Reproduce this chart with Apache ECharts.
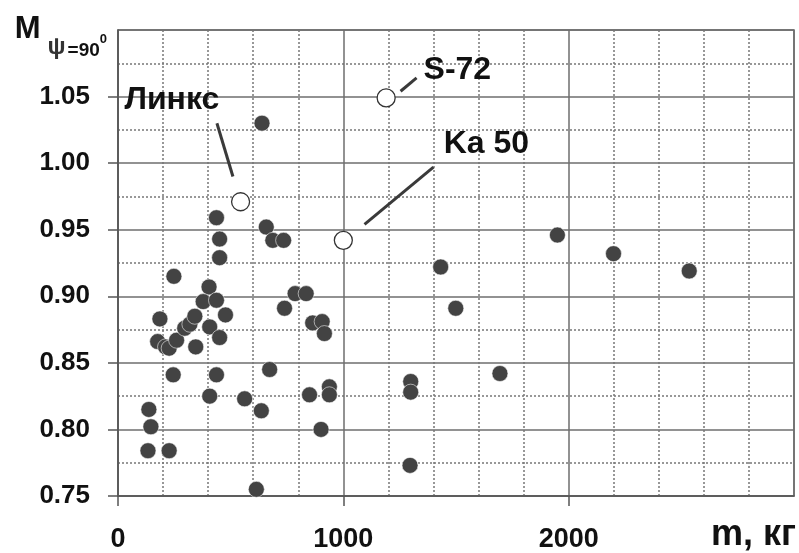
<!DOCTYPE html>
<html><head><meta charset="utf-8">
<script src="https://cdn.jsdelivr.net/npm/echarts@6/dist/echarts.min.js"></script>
<style>html,body{margin:0;padding:0;background:#fff}#c{width:799px;height:553px}</style>
</head><body><div id="c"></div>
<script>
// Filled points: helicopter mass m (kg) and M at psi = 90 deg
const massKg = [248,186,176,211,227,260,296,319,341,345,245,137,146,133,227,
  404,378,437,477,407,451,437,407,562,636,614,673,739,786,835,864,906,916,850,
  938,938,901,639,437,451,451,658,687,735,1432,1950,2199,2535,1499,1695,1299,1299,1296];
const mPsi90 = [0.915,0.883,0.866,0.862,0.861,0.867,0.876,0.879,0.885,0.862,0.841,0.815,0.802,0.784,0.784,
  0.907,0.896,0.897,0.886,0.877,0.869,0.841,0.825,0.823,0.814,0.755,0.845,0.891,0.902,0.902,0.880,0.881,0.872,0.826,
  0.832,0.826,0.800,1.030,0.959,0.943,0.929,0.952,0.942,0.942,0.922,0.946,0.932,0.919,0.891,0.842,0.836,0.828,0.773];

// Named (open) points
const namedLabels = ['Линкс','S-72','Ka 50'];
const namedMass = [544,1190,1000];
const namedM = [0.971,1.049,0.942];

// Annotation layout (data units): label centre and leader line ends
const labelPos = [[239,1.047],[1506,1.0695],[1635,1.0145]];
const leaderFrom = [[439,1.030],[1254,1.054],[1094,0.954]];
const leaderTo = [[510,0.990],[1325,1.064],[1400,0.997]];

const FONT = '"Liberation Sans", Arial, sans-serif';

const filled = massKg.map((m,i)=>[m,mPsi90[i]]);
const named = namedMass.map((m,i)=>({name:namedLabels[i], value:[m,namedM[i]]}));

const chart = echarts.init(document.getElementById('c'), null, {renderer:'canvas'});
chart.setOption({
  animation:false,
  backgroundColor:'#fff',
  textStyle:{fontFamily:FONT},
  grid:{left:118,right:4,top:30,bottom:52,show:true,borderColor:'#666',borderWidth:1.5,containLabel:false},
  xAxis:{
    type:'value',min:0,max:3000,interval:1000,
    name:'m, кг',nameLocation:'end',nameGap:2,
    nameTextStyle:{fontFamily:FONT,fontSize:36,fontWeight:'bold',color:'#111',align:'right',verticalAlign:'top',padding:[21,0,0,0]},
    axisLine:{show:true,onZero:false,lineStyle:{color:'#555',width:1.5}},
    axisTick:{show:true,length:10,lineStyle:{color:'#555',width:1.5}},
    axisLabel:{fontFamily:FONT,fontSize:27,fontWeight:'bold',color:'#111',margin:30,showMaxLabel:false,
      formatter:v=>String(v)},
    splitLine:{show:true,lineStyle:{color:'#6e6e6e',width:1.5}},
    minorTick:{show:false,splitNumber:5},
    minorSplitLine:{show:true,lineStyle:{color:'#777',width:1.5,type:[2,2]}}
  },
  yAxis:{
    type:'value',min:0.75,max:1.10,interval:0.05,
    name:'{M|M}{p|ψ}{s|=90}{u|0}',nameLocation:'end',nameGap:16,
    nameTextStyle:{align:'right',verticalAlign:'top',padding:[0,11,0,0],
      rich:{
        M:{fontFamily:FONT,fontSize:31,fontWeight:'bold',color:'#111',verticalAlign:'top',padding:[0,7,0,0]},
        p:{fontFamily:FONT,fontSize:24,fontWeight:'bold',color:'#333',verticalAlign:'top',padding:[21,2,0,0]},
        s:{fontFamily:FONT,fontSize:19,fontWeight:'bold',color:'#111',verticalAlign:'top',padding:[27,0,0,0]},
        u:{fontFamily:FONT,fontSize:13,fontWeight:'bold',color:'#111',verticalAlign:'top',padding:[19,0,0,0]}
      }},
    axisLine:{show:true,onZero:false,lineStyle:{color:'#555',width:1.5}},
    axisTick:{show:true,length:10,lineStyle:{color:'#555',width:1.5}},
    axisLabel:{fontFamily:FONT,fontSize:26,fontWeight:'bold',color:'#111',margin:28,showMaxLabel:false,
      formatter:v=>v.toFixed(2)},
    splitLine:{show:true,lineStyle:{color:'#6e6e6e',width:1.5}},
    minorTick:{show:false,splitNumber:2},
    minorSplitLine:{show:true,lineStyle:{color:'#777',width:1.5,type:[2,2]}}
  },
  series:[
    {type:'scatter',name:'data',data:filled,symbol:'circle',symbolSize:16,z:3,
      itemStyle:{color:'#434343',opacity:1,borderColor:'rgba(255,255,255,0.55)',borderWidth:1}},
    {type:'scatter',name:'named',data:named,symbol:'circle',symbolSize:18,z:4,
      itemStyle:{color:'#fff',opacity:1,borderColor:'#333',borderWidth:1.3},
      markLine:{silent:true,symbol:['none','none'],animation:false,
        lineStyle:{color:'#3a3a3a',width:3,type:'solid'},label:{show:false},
        data:leaderFrom.map((a,i)=>[{coord:a},{coord:leaderTo[i]}])},
      markPoint:{silent:true,animation:false,symbol:'circle',symbolSize:0,
        label:{show:true,position:'inside',formatter:'{b}',fontFamily:FONT,fontSize:32,fontWeight:'bold',color:'#111'},
        data:labelPos.map((p,i)=>({name:namedLabels[i],coord:p}))}
    }
  ]
});
</script></body></html>
